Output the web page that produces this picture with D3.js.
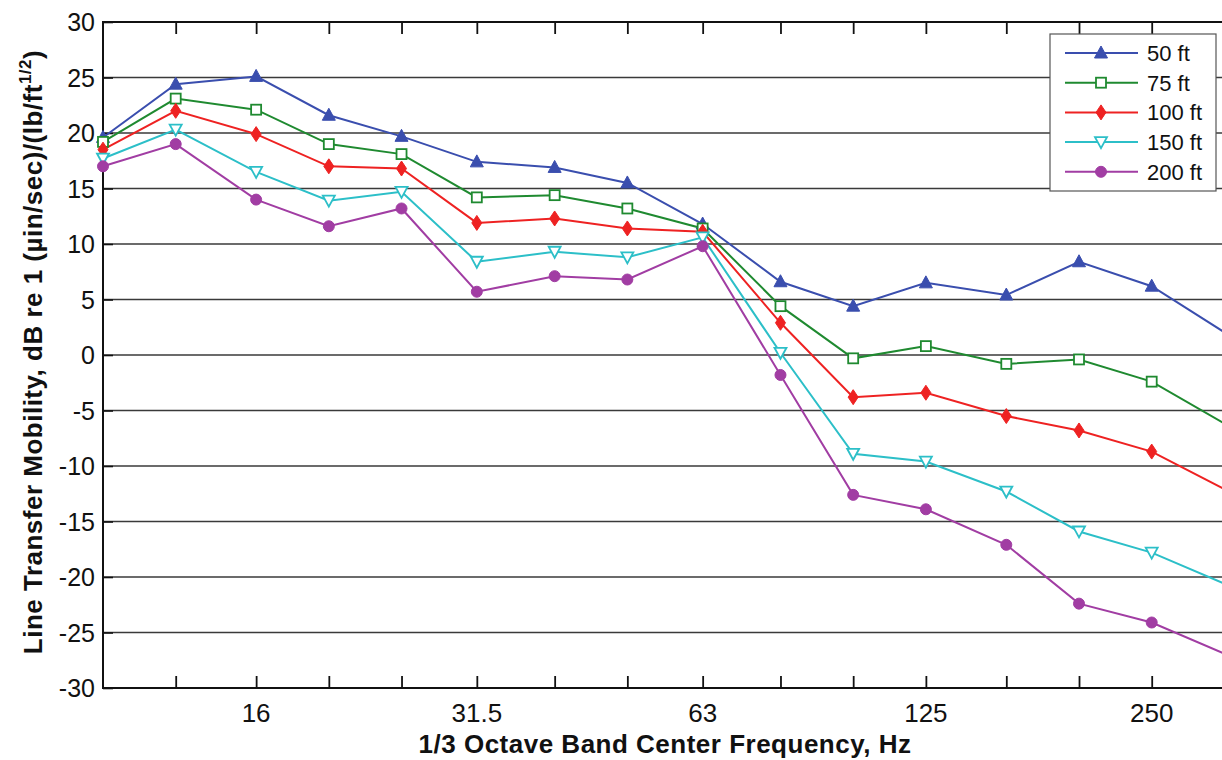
<!DOCTYPE html>
<html>
<head>
<meta charset="utf-8">
<script src="https://cdn.jsdelivr.net/npm/d3@7"></script>
<style>
body { margin: 0; background: #fff; }
svg { display: block; font-family: "Liberation Sans", Arial, sans-serif; }
</style>
</head>
<body>
<div id="chart"></div>
<script>
// 1/3 octave band centre frequencies, Hz
var freqs = [10, 12.5, 16, 20, 25, 31.5, 40, 50, 63, 80, 100, 125, 160, 200, 250, 315];
var freq_labels = [16, 31.5, 63, 125, 250];
var y_ticks = [30, 25, 20, 15, 10, 5, 0, -5, -10, -15, -20, -25, -30];

var ft50  = [19.6, 24.4, 25.1, 21.6, 19.7, 17.4, 16.9, 15.5, 11.8, 6.6, 4.4, 6.5, 5.4, 8.4, 6.2, 1.9];
var ft75  = [19.2, 23.1, 22.1, 19.0, 18.1, 14.2, 14.4, 13.2, 11.4, 4.4, -0.3, 0.8, -0.8, -0.4, -2.4, -6.3];
var ft100 = [18.5, 22.0, 19.9, 17.0, 16.8, 11.9, 12.3, 11.4, 11.1, 2.9, -3.8, -3.4, -5.5, -6.8, -8.7, -12.2];
var ft150 = [17.7, 20.3, 16.5, 13.9, 14.7, 8.4, 9.3, 8.8, 10.6, 0.2, -8.9, -9.6, -12.3, -15.9, -17.8, -20.7];
var ft200 = [17.0, 19.0, 14.0, 11.6, 13.2, 5.7, 7.1, 6.8, 9.8, -1.8, -12.6, -13.9, -17.1, -22.4, -24.1, -27.0];

var series_names = ["50 ft", "75 ft", "100 ft", "150 ft", "200 ft"];
var series_values = [ft50, ft75, ft100, ft150, ft200];
var series_colors = ["#3a4eae", "#1f8a30", "#ee2222", "#2cbfc8", "#a13da3"];
var series_marks = ["triUp", "square", "diamond", "triDown", "circle"];

var width = 1222, height = 760;
var plot_left = 103, plot_right = 1227, plot_top = 22, plot_bottom = 688;

var svg = d3.select("#chart").append("svg")
    .attr("width", width)
    .attr("height", height);

// marks that fall off the right edge of the picture are not shown
svg.append("clipPath").attr("id", "markclip")
    .append("rect")
    .attr("x", 0).attr("y", 0)
    .attr("width", 1221).attr("height", height);

var x = d3.scaleLog().domain([10, 315]).range([plot_left, plot_right]);
var y = d3.scaleLinear().domain([-30, 30]).range([plot_bottom, plot_top]);

// horizontal grid
svg.append("g")
    .selectAll("line")
    .data(y_ticks)
    .enter().append("line")
    .attr("x1", plot_left).attr("x2", plot_right)
    .attr("y1", function(d) { return y(d); })
    .attr("y2", function(d) { return y(d); })
    .attr("stroke", "#3a3a3a")
    .attr("stroke-width", 1.4);

// y axis, ticks pointing inward
var yAxis = svg.append("g")
    .attr("transform", "translate(" + plot_left + ",0)")
    .call(d3.axisRight(y).tickValues(y_ticks).tickSize(10).tickFormat(""));
yAxis.select(".domain").remove();
yAxis.selectAll("line").attr("stroke", "#111").attr("stroke-width", 1.6);

svg.append("g")
    .selectAll("text")
    .data(y_ticks)
    .enter().append("text")
    .attr("x", 95)
    .attr("y", function(d) { return y(d); })
    .attr("dy", "0.36em")
    .attr("text-anchor", "end")
    .attr("font-size", 25)
    .attr("fill", "#111")
    .text(function(d) { return d; });

// x axis bottom and top, ticks inward
var xBottom = svg.append("g")
    .attr("transform", "translate(0," + plot_bottom + ")")
    .call(d3.axisTop(x).tickValues(freqs.slice(1)).tickSize(12).tickFormat(""));
xBottom.select(".domain").remove();
xBottom.selectAll("line").attr("stroke", "#111").attr("stroke-width", 1.8);

var xTop = svg.append("g")
    .attr("transform", "translate(0," + plot_top + ")")
    .call(d3.axisBottom(x).tickValues(freqs.slice(1)).tickSize(12).tickFormat(""));
xTop.select(".domain").remove();
xTop.selectAll("line").attr("stroke", "#111").attr("stroke-width", 1.8);

svg.append("g")
    .selectAll("text")
    .data(freq_labels)
    .enter().append("text")
    .attr("x", function(d) { return x(d); })
    .attr("y", 722)
    .attr("text-anchor", "middle")
    .attr("font-size", 26)
    .attr("fill", "#111")
    .text(function(d) { return d; });

// frame
svg.append("rect")
    .attr("x", plot_left).attr("y", plot_top)
    .attr("width", plot_right - plot_left).attr("height", plot_bottom - plot_top)
    .attr("fill", "none")
    .attr("stroke", "#111")
    .attr("stroke-width", 2);

// axis titles
svg.append("text")
    .attr("x", 665).attr("y", 753)
    .attr("text-anchor", "middle")
    .attr("font-size", 26)
    .attr("font-weight", "bold")
    .attr("letter-spacing", 0.5)
    .attr("fill", "#111")
    .text("1/3 Octave Band Center Frequency, Hz");

var ylab = svg.append("text")
    .attr("transform", "translate(42,352) rotate(-90)")
    .attr("text-anchor", "middle")
    .attr("font-size", 26)
    .attr("font-weight", "bold")
    .attr("letter-spacing", 0.5)
    .attr("fill", "#111");
ylab.append("tspan").text("Line Transfer Mobility, dB re 1 (\u00b5in/sec)/(lb/ft");
ylab.append("tspan").attr("dy", -11).attr("font-size", 17).text("1/2");
ylab.append("tspan").attr("dy", 11).text(")");

// marker drawing
function drawMark(g, kind, color) {
    if (kind == "triUp") {
        g.append("path").attr("d", "M0,-7L6.5,5L-6.5,5Z").attr("fill", color).attr("stroke", color);
    } else if (kind == "square") {
        g.append("rect").attr("x", -5).attr("y", -5).attr("width", 10).attr("height", 10)
            .attr("fill", "#fff").attr("stroke", color).attr("stroke-width", 1.8);
    } else if (kind == "diamond") {
        g.append("path").attr("d", "M0,-7.5L5,0L0,7.5L-5,0Z").attr("fill", color).attr("stroke", color);
    } else if (kind == "triDown") {
        g.append("path").attr("d", "M-6,-5L6,-5L0,6Z").attr("fill", "#fff")
            .attr("stroke", color).attr("stroke-width", 1.8);
    } else {
        g.append("circle").attr("r", 5.5).attr("fill", color).attr("stroke", color);
    }
}

var line = d3.line()
    .x(function(d, i) { return x(freqs[i]); })
    .y(function(d) { return y(d); });

for (var s = 0; s < series_values.length; s++) {
    svg.append("path")
        .datum(series_values[s])
        .attr("d", line)
        .attr("fill", "none")
        .attr("stroke", series_colors[s])
        .attr("stroke-width", 2);
}
var marks = svg.append("g").attr("clip-path", "url(#markclip)");
for (var s = 0; s < series_values.length; s++) {
    for (var i = 0; i < series_values[s].length; i++) {
        if (x(freqs[i]) > width) continue;
        var g = marks.append("g")
            .attr("transform", "translate(" + x(freqs[i]) + "," + y(series_values[s][i]) + ")");
        drawMark(g, series_marks[s], series_colors[s]);
    }
}

// legend
var legend = svg.append("g").attr("transform", "translate(1050,34)");
legend.append("rect")
    .attr("width", 166).attr("height", 157)
    .attr("fill", "#fff")
    .attr("stroke", "#555")
    .attr("stroke-width", 1.2);
for (var s = 0; s < series_names.length; s++) {
    var ly = 19 + s * 29.7;
    legend.append("line")
        .attr("x1", 15).attr("x2", 88)
        .attr("y1", ly).attr("y2", ly)
        .attr("stroke", series_colors[s])
        .attr("stroke-width", 2);
    var lg = legend.append("g").attr("transform", "translate(51," + ly + ")");
    drawMark(lg, series_marks[s], series_colors[s]);
    legend.append("text")
        .attr("x", 97).attr("y", ly)
        .attr("dy", "0.36em")
        .attr("font-size", 22)
        .attr("fill", "#111")
        .text(series_names[s]);
}
</script>
</body>
</html>
